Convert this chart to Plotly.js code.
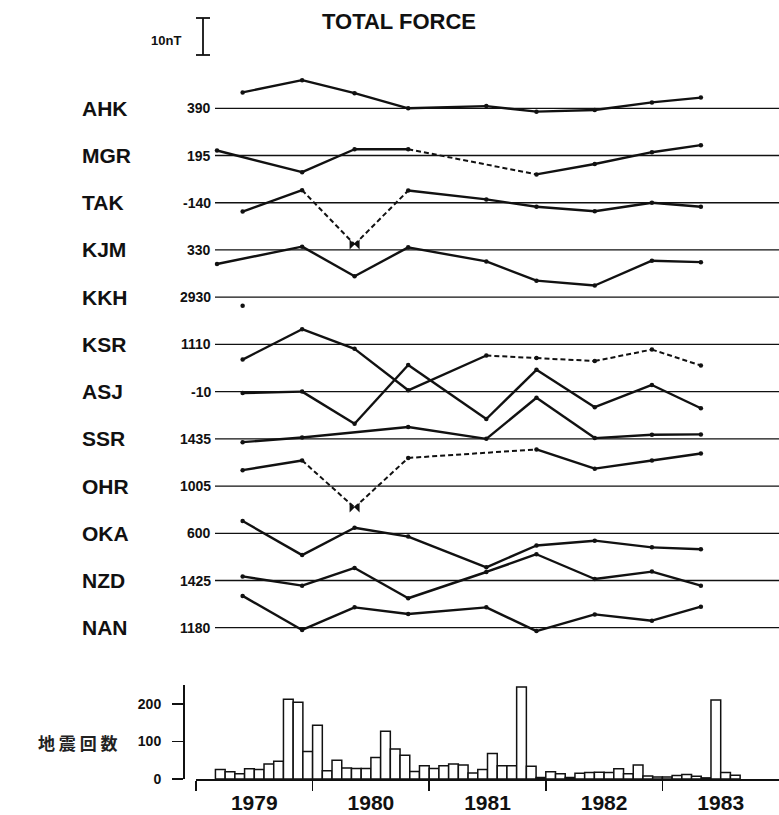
<!DOCTYPE html>
<html><head><meta charset="utf-8">
<script src="https://cdn.plot.ly/plotly-3.0.1.min.js"></script>
<style>html,body{margin:0;padding:0;background:#fff}</style>
</head><body><div id="chart" style="width:779px;height:815px"></div>
<script>
// ---------- DATA ----------
const stations = ["AHK","MGR","TAK","KJM","KKH","KSR","ASJ","SSR","OHR","OKA","NZD","NAN"];
const baseLabels = ["390","195","-140","330","2930","1110","-10","1435","1005","600","1425","1180"];
// survey epochs (decimal year)
const epochs = [1979.18, 1979.40, 1979.91, 1980.36, 1980.82, 1981.49, 1981.92, 1982.42, 1982.91, 1983.33];
// deviations from base value (nT)
const AHK = [null, 4.3, 7.6, 4.1, 0.0, 0.6, -0.9, -0.45, 1.6, 2.9];
const MGR = [1.35, null, -4.5, 1.7, 1.7, null, -5.1, -2.3, 0.9, 2.8];
const TAK = [null, -2.4, 3.4, -11.3, 3.3, 0.9, -1.1, -2.3, 0.0, -1.1];
const KJM = [-3.8, null, 0.9, -7.1, 0.7, -3.1, -8.3, -9.6, -2.9, -3.3];
const KKH = [null, -2.3, null, null, null, null, null, null, null, null];
const KSR = [null, -4.1, 4.1, -1.2, -12.4, -3.0, -3.7, -4.5, -1.4, -5.7];
const ASJ = [null, -0.4, 0.0, -8.7, 7.2, -7.4, 5.9, -4.2, 1.8, -4.5];
const SSR = [null, -0.9, 0.35, null, 3.2, 0.0, 11.1, 0.2, 1.1, 1.2];
const OHR = [null, 4.3, 6.9, -5.8, 7.6, null, 9.9, 4.7, 6.9, 8.8];
const OKA = [null, 3.3, -5.9, 1.5, -0.9, -9.2, -3.3, -2.0, -3.8, -4.3];
const NZD = [null, 1.1, -1.4, 3.4, -4.8, 2.3, 7.1, 0.4, 2.4, -1.4];
const NAN = [null, 8.6, -0.6, 5.5, 3.7, 5.5, -0.9, 3.6, 1.9, 5.7];
const series = [AHK, MGR, TAK, KJM, KKH, KSR, ASJ, SSR, OHR, OKA, NZD, NAN];
// epoch indices after which the segment is dashed (data gaps / uncertain)
const dashedAfter = [[], [4], [2, 3], [], [], [5, 6, 7, 8], [], [], [2, 3, 4], [], [], []];
// flagged points (station index, epoch index)
const flagged = [[2, 3], [8, 3]];

// monthly earthquake counts, starting March 1979
const countStart = 1979 + 2/12;
const counts = [25,19,14,27,25,40,47,212,204,73,143,22,50,29,28,28,57,127,80,63,20,35,28,35,40,37,16,25,68,35,35,245,34,4,19,14,4,15,17,18,17,27,14,37,8,5,5,9,12,7,3,210,17,10];
const yearTicks = [1979, 1980, 1981, 1982, 1983];
const yearLabels = ["1979", "1980", "1981", "1982", "1983"];
const countTicks = [0, 100, 200];
const countLabel = "地 震 回 数";
const scaleNT = 10;

// ---------- LAYOUT GEOMETRY ----------
const W = 779, H = 815;
const PXNT = 3.7;            // px per nT
const Y0 = 108.3;            // px of first baseline
const GAP = 47.22 / PXNT;    // station spacing in nT
const px = v => v / W;
const py = v => 1 - v / H;
const ink = "#111";
const FONT = "Liberation Sans, Arial, sans-serif";

const traces = [];
const shapes = [];
const annotations = [];

stations.forEach((name, k) => {
  const base = -k * GAP;
  const vals = series[k];
  const idx = vals.map((v, i) => v === null ? -1 : i).filter(i => i >= 0);
  const sx = [], sy = [], dx = [], dy = [];
  for (let j = 0; j < idx.length - 1; j++) {
    const a = idx[j], b = idx[j + 1];
    const tx = dashedAfter[k].includes(a) ? [dx, dy] : [sx, sy];
    tx[0].push(epochs[a], epochs[b], null);
    tx[1].push(base + vals[a], base + vals[b], null);
  }
  traces.push({x: sx, y: sy, mode: "lines", type: "scatter", line: {color: ink, width: 2.4}, hoverinfo: "skip", xaxis: "x", yaxis: "y"});
  traces.push({x: dx, y: dy, mode: "lines", type: "scatter", line: {color: ink, width: 2, dash: "5px,3px"}, hoverinfo: "skip", xaxis: "x", yaxis: "y"});
  const flaggedHere = flagged.filter(f => f[0] === k).map(f => f[1]);
  const mx = [], my = [];
  idx.forEach(i => { if (!flaggedHere.includes(i)) { mx.push(epochs[i]); my.push(base + vals[i]); } });
  traces.push({x: mx, y: my, mode: "markers", type: "scatter", marker: {color: ink, size: 4.5}, hoverinfo: "skip", xaxis: "x", yaxis: "y"});
  if (flaggedHere.length) {
    traces.push({x: flaggedHere.map(i => epochs[i]), y: flaggedHere.map(i => base + vals[i]), mode: "markers", type: "scatter",
      marker: {color: ink, size: 10, symbol: "bowtie"}, hoverinfo: "skip", xaxis: "x", yaxis: "y"});
  }
  shapes.push({type: "line", xref: "paper", yref: "y", x0: px(215), x1: 1, y0: base, y1: base, line: {color: ink, width: 1.3}});
  annotations.push({text: "<b>" + name + "</b>", xref: "paper", yref: "y", x: px(80), y: base, xanchor: "left", yanchor: "middle",
    showarrow: false, font: {family: FONT, size: 21, color: ink}});
  annotations.push({text: "<b>" + baseLabels[k] + "</b>", xref: "paper", yref: "y", x: px(213), y: base, xanchor: "right", yanchor: "middle",
    showarrow: false, font: {family: FONT, size: 14, color: ink}});
});

// scale bar
const sbTop = Y0 / PXNT - 18 / PXNT;
shapes.push({type: "line", xref: "paper", yref: "y", x0: px(203), x1: px(203), y0: sbTop, y1: sbTop - scaleNT, line: {color: ink, width: 1.8}});
shapes.push({type: "line", xref: "paper", yref: "y", x0: px(196), x1: px(210), y0: sbTop, y1: sbTop, line: {color: ink, width: 1.8}});
shapes.push({type: "line", xref: "paper", yref: "y", x0: px(196), x1: px(210), y0: sbTop - scaleNT, y1: sbTop - scaleNT, line: {color: ink, width: 1.8}});
annotations.push({text: "<b>" + scaleNT + "nT</b>", xref: "paper", yref: "y", x: px(183), y: sbTop - scaleNT / 2 - 1, xanchor: "right", yanchor: "middle",
  showarrow: false, font: {family: FONT, size: 13, color: ink}});
annotations.push({text: "<b>TOTAL FORCE</b>", xref: "paper", yref: "paper", x: px(399), y: py(22), xanchor: "center", yanchor: "middle",
  showarrow: false, font: {family: FONT, size: 22, color: ink}});
annotations.push({text: "<b>" + countLabel + "</b>", xref: "paper", yref: "paper", x: px(36), y: py(742), xanchor: "left", yanchor: "middle",
  showarrow: false, font: {family: "Noto Sans CJK JP, sans-serif", size: 17, color: "#222"}});

// bars
traces.push({type: "bar", x: counts.map((c, i) => countStart + (i + 0.5) / 12), y: counts, width: 1 / 12,
  marker: {color: "#fff", line: {color: ink, width: 1.5}}, hoverinfo: "skip", xaxis: "x2", yaxis: "y2"});

const layout = {
  width: W, height: H,
  margin: {l: 0, r: 0, t: 0, b: 0},
  paper_bgcolor: "#fff", plot_bgcolor: "rgba(0,0,0,0)",
  showlegend: false, bargap: 0,
  font: {family: FONT, color: ink},
  xaxis: {domain: [px(196), 1], range: [1979, 1984], visible: false, anchor: "y"},
  yaxis: {domain: [py(650), 1], range: [(Y0 - 650) / PXNT, Y0 / PXNT], visible: false, anchor: "x"},
  xaxis2: {domain: [px(196), 1], range: [1979, 1984], anchor: "y2", showline: true, linecolor: ink, linewidth: 1.6,
    showgrid: false, zeroline: false, tickmode: "array", tickvals: yearTicks.map(y => y + 0.5), ticktext: yearLabels, ticks: "",
    ticklabelstandoff: 4,
    tickfont: {family: FONT, size: 21, color: ink, weight: "bold"},
    minor: {tickmode: "array", tickvals: yearTicks, ticks: "outside", ticklen: 10, tickwidth: 1.6, tickcolor: ink, showgrid: false}},
  yaxis2: {domain: [py(779), py(685)], range: [0, 250], anchor: "free", position: px(183), showline: true, linecolor: ink, linewidth: 1.6,
    showgrid: false, zeroline: false, tickmode: "array", tickvals: countTicks, ticks: "outside", ticklen: 11, tickwidth: 1.6, tickcolor: ink,
    ticklabelstandoff: 8, tickfont: {family: FONT, size: 14, color: ink, weight: "bold"}},
  shapes: shapes,
  annotations: annotations
};

Plotly.newPlot("chart", traces, layout, {displayModeBar: false, staticPlot: true});
</script>
</body></html>
